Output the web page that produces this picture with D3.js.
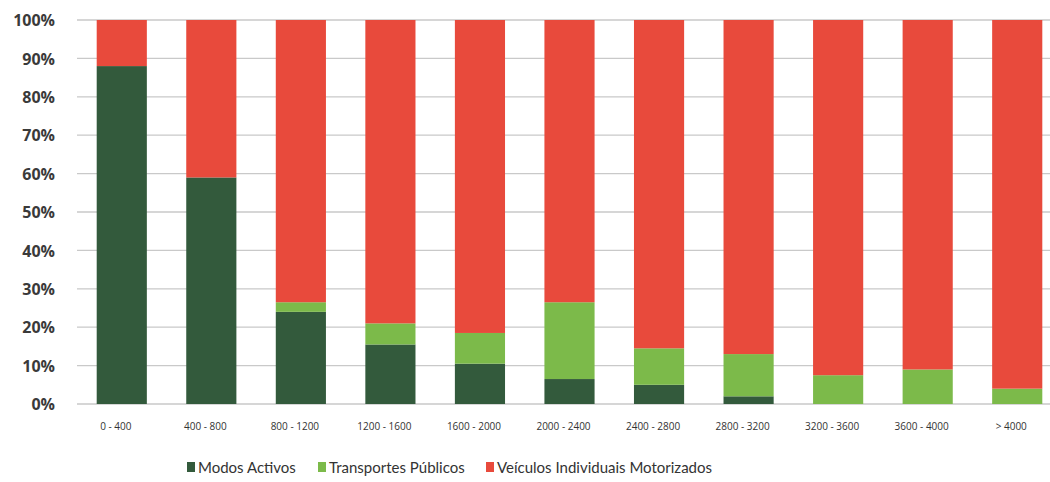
<!DOCTYPE html>
<html><head><meta charset="utf-8">
<script src="https://cdn.jsdelivr.net/npm/d3@7"></script>
<style>body{margin:0;background:#fff}svg{display:block}</style>
</head><body><svg id="c" width="1050" height="482"></svg>
<script>
const categories = ["0-400","400-800","800-1200","1200-1600","1600-2000","2000-2400","2400-2800","2800-3200","3200-3600","3600-4000",">4000"];
const categoryLabels = ["0 - 400","400 - 800","800 - 1200","1200 - 1600","1600 - 2000","2000 - 2400","2400 - 2800","2800 - 3200","3200 - 3600","3600 - 4000","> 4000"];
const modosActivos = [88, 59, 24, 15.5, 10.5, 6.5, 5, 2, 0, 0, 0];
const transportesPublicos = [0, 0, 2.5, 5.5, 8, 20, 9.5, 11, 7.5, 9, 4];
const veiculosIndividuais = categories.map((c,i)=>100 - modosActivos[i] - transportesPublicos[i]);
const seriesNames = ["Modos Activos","Transportes Públicos","Veículos Individuais Motorizados"];
const seriesColors = ["#335a3c","#7cba4a","#e84a3c"];
const yTicks = [0,10,20,30,40,50,60,70,80,90,100];

const svg = d3.select("#c");
const x = d3.scaleBand().domain(categories).range([77,1062]).paddingInner(0.44).paddingOuter(0.22);
const y = d3.scaleLinear().domain([0,100]).range([404,20]);

// gridlines
svg.append("g").selectAll("line").data(yTicks).join("line")
  .attr("x1",77).attr("x2",1050).attr("y1",d=>y(d)).attr("y2",d=>y(d))
  .attr("stroke","#c9c9c9").attr("stroke-width",1.3);

// y labels
const yAxis = d3.axisLeft(y).tickValues(yTicks).tickFormat(d=>d+"%").tickSize(0).tickPadding(0);
const yg = svg.append("g").attr("transform","translate(55,0)").call(yAxis);
yg.select(".domain").remove();
yg.selectAll("text").attr("font-family","'Open Sans', sans-serif").attr("font-weight",700)
  .attr("font-size",16).attr("fill","#3a3a3a").attr("dy","0.35em");

// stacked bars
const table = categories.map((c,i)=>({cat:c, a:modosActivos[i], t:transportesPublicos[i], v:veiculosIndividuais[i]}));
const stack = d3.stack().keys(["a","t","v"])(table);
svg.append("g").selectAll("g").data(stack).join("g").attr("fill",(d,i)=>seriesColors[i])
  .selectAll("rect").data(d=>d).join("rect")
  .attr("x",d=>x(d.data.cat)).attr("width",x.bandwidth())
  .attr("y",d=>y(d[1])).attr("height",d=>y(d[0])-y(d[1]));

// x labels
const xAxis = d3.axisBottom(x).tickFormat((d,i)=>categoryLabels[i]).tickSize(0).tickPadding(0);
const xg = svg.append("g").attr("transform","translate(-6,426)").call(xAxis);
xg.select(".domain").remove();
xg.selectAll("text").attr("font-family","'Open Sans', sans-serif").attr("font-size",10)
  .attr("fill","#333").attr("dy","0.35em");

// legend
const legendX = [187, 318, 486];
const lg = svg.append("g").selectAll("g").data(seriesNames).join("g")
  .attr("transform",(d,i)=>`translate(${legendX[i]},468)`);
lg.append("rect").attr("x",0).attr("y",-6).attr("width",8).attr("height",10).attr("fill",(d,i)=>seriesColors[i]);
lg.append("text").attr("x",11).attr("y",0).attr("dy","0.35em")
  .attr("font-family","Lato, sans-serif").attr("font-size",15).attr("fill","#333").text(d=>d);
</script></body></html>
